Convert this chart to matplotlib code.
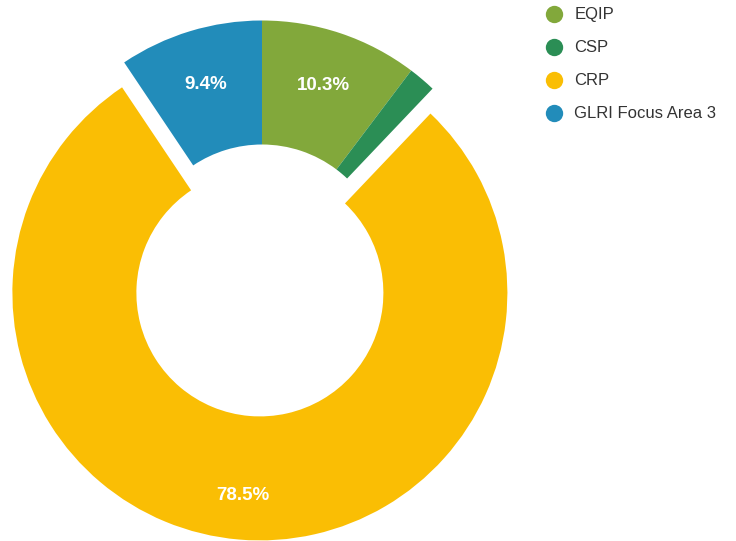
import matplotlib
matplotlib.use("Agg")
import matplotlib.pyplot as plt
from matplotlib.lines import Line2D
import numpy as np

plt.rcParams['font.family'] = ['Liberation Sans', 'DejaVu Sans']

labels = ["EQIP", "CSP", "CRP", "GLRI Focus Area 3"]
values = [10.3, 1.8, 78.5, 9.4]
pct_labels = ["10.3%", "", "78.5%", "9.4%"]
colors = ["#82A83B", "#2B8E55", "#FABE04", "#228CBA"]
explode = [0, 0, 25, 0]

W, H = 736, 541
fig = plt.figure(figsize=(W / 100, H / 100), dpi=100)
ax = fig.add_axes([0, 0, 1, 1])

R = 247.5
cx, cy = 262, H - 268
wedges, _ = ax.pie(values, colors=colors, explode=explode, startangle=90,
                   counterclock=False, radius=R, center=(cx, cy),
                   wedgeprops=dict(width=124, linewidth=0), frame=True)
ax.axis('off')
ax.set_xlim(0, W)
ax.set_ylim(0, H)
ax.set_aspect('equal')

lab_r = [0.776, 0.776, 0.82, 0.776]
for i, w in enumerate(wedges):
    if not pct_labels[i]:
        continue
    ang = np.deg2rad((w.theta1 + w.theta2) / 2)
    wc = w.center
    x = wc[0] + lab_r[i] * R * np.cos(ang)
    y = wc[1] + lab_r[i] * R * np.sin(ang)
    ax.text(x, y, pct_labels[i], ha='center', va='center', color='white',
            fontsize=13.5, fontweight='bold')

handles = [Line2D([], [], marker='o', linestyle='none', markersize=12.5,
                  markerfacecolor=c, markeredgewidth=0) for c in colors]
leg = ax.legend(handles, labels, loc='upper left', bbox_to_anchor=(536 / W, 1 + 1 / H),
                bbox_transform=fig.transFigure, frameon=False, fontsize=12,
                handletextpad=0.6, labelspacing=1.08, borderpad=0, handlelength=1.2)
for t in leg.get_texts():
    t.set_color('#333333')

fig.savefig('out.png', dpi=100, facecolor='white')
